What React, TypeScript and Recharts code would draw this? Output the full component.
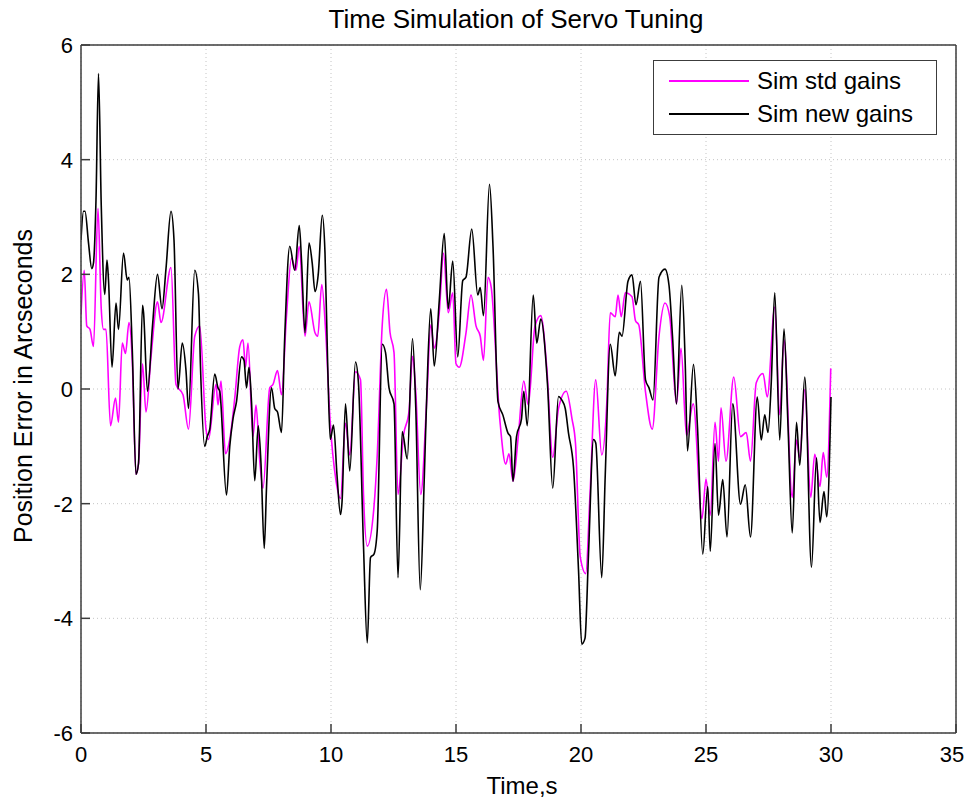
import { LineChart, CartesianGrid, XAxis, YAxis, Legend, Line } from "recharts";

// Sim new gains (black)
const newTime = [
  0, 0.1, 0.16, 0.3, 0.43, 0.5, 0.6, 0.7, 0.81, 0.95,
  1.04, 1.1, 1.24, 1.4, 1.5, 1.7, 1.85, 1.92, 2.05, 2.2,
  2.3, 2.46, 2.5, 2.66, 2.86, 3.06, 3.24, 3.4, 3.6, 3.72,
  3.88, 4.05, 4.2, 4.3, 4.55, 4.7, 4.78, 4.95, 5.05, 5.15,
  5.35, 5.48, 5.55, 5.82, 5.95, 6.08, 6.22, 6.42, 6.52, 6.62,
  6.72, 6.82, 6.95, 7.09, 7.2, 7.33, 7.42, 7.62, 7.75, 7.86,
  8.02, 8.15, 8.35, 8.55, 8.73, 8.82, 8.96, 9.12, 9.25, 9.36,
  9.49, 9.65, 9.76, 9.87, 9.97, 10.1, 10.24, 10.38, 10.44, 10.58,
  10.75, 10.98, 11.1, 11.3, 11.45, 11.58, 11.72, 11.85, 12.05, 12.18,
  12.32, 12.52, 12.68, 12.85, 13.05, 13.26, 13.39, 13.57, 13.73, 13.83,
  13.99, 14.13, 14.33, 14.53, 14.69, 14.87, 15.07, 15.27, 15.4, 15.63,
  15.87, 15.97, 16.1, 16.34, 16.48, 16.68, 16.88, 17.08, 17.18, 17.28,
  17.42, 17.62, 17.71, 17.85, 18.09, 18.23, 18.39, 18.66, 18.87, 19.1,
  19.23, 19.37, 19.5, 19.7, 19.9, 20.03, 20.16, 20.3, 20.5, 20.59,
  20.83, 20.97, 21.17, 21.37, 21.53, 21.64, 21.88, 22.04, 22.2, 22.38,
  22.58, 22.72, 22.88, 23.12, 23.36, 23.52, 23.66, 23.82, 24.03, 24.17,
  24.26, 24.5, 24.66, 24.87, 25.07, 25.17, 25.36, 25.5, 25.67, 25.84,
  26.07, 26.38, 26.57, 26.78, 27.05, 27.21, 27.35, 27.48, 27.61, 27.75,
  27.95, 28.12, 28.28, 28.45, 28.62, 28.75, 28.95, 29.22, 29.42, 29.56,
  29.72, 29.83, 30.0,
];
const newErr = [
  2.6, 3.1, 3.1, 2.55, 2.1, 2.2, 3.3, 5.5, 3.2, 1.65,
  2.25, 1.9, 0.38, 1.5, 1.04, 2.37, 1.9, 1.95, 0.7, -1.49,
  -1.3, 1.46, 1.34, -0.04, 1.1, 2.0, 1.4, 2.1, 3.1, 2.6,
  0.0, 0.8, 0.32, -0.34, 2.07, 1.65, 0.38, -1.0, -0.83, -0.7,
  0.26, 0.02, -0.04, -1.85, -1.0, -0.52, -0.22, 0.56, 0.5, 0.02,
  0.38, -0.22, -1.6, -0.64, -1.3, -2.78, -1.73, 0.02, -0.34, -0.4,
  -0.76, 0.92, 2.49, 2.07, 2.85, 2.25, 0.98, 2.55, 2.19, 1.7,
  2.0, 3.03, 2.37, 0.38, -0.88, -0.63, -1.5, -2.19, -1.98, -0.26,
  -1.43, 0.47, 0.09, -2.74, -4.43, -2.94, -2.88, -2.46, 0.78, 0.64,
  0.02, -0.26, -3.29, -0.74, -1.22, 0.88, -0.32, -3.5, -1.57, -0.12,
  1.4, 0.4, 1.54, 2.71, 1.4, 2.23, 0.56, 1.89, 1.95, 2.79,
  1.64, 1.77, 1.28, 3.57, 2.49, -0.22, -0.46, -0.77, -0.83, -1.61,
  -0.83, -0.52, -0.04, -0.64, 1.64, 0.8, 1.22, 0.08, -1.73, -0.13,
  -0.19, -0.34, -0.77, -1.37, -3.15, -4.45, -4.35, -2.88, -0.88, -0.94,
  -3.29, -1.5, 0.78, 0.23, 0.99, 0.92, 1.88, 1.99, 1.47, 1.88,
  0.16, 0.02, -0.19, 1.95, 2.09, 1.81, 0.92, -0.26, 1.81, 0.43,
  -1.08, 0.43, -0.67, -2.88, -1.7, -2.83, -0.95, -2.2, -1.58, -2.58,
  -0.26, -2.01, -1.67, -2.58, -0.14, -0.89, -0.45, -0.76, 0.11, 1.68,
  -0.89, 1.05, -0.64, -2.51, -0.58, -1.33, 0.21, -3.11, -1.2, -2.33,
  -1.79, -2.23, -0.14,
];

// Sim std gains (magenta)
const stdTime = [
  0, 0.13, 0.23, 0.36, 0.5, 0.68, 0.81, 0.9, 1.0, 1.18,
  1.38, 1.5, 1.65, 1.78, 1.92, 2.05, 2.2, 2.3, 2.46, 2.6,
  2.8, 3.06, 3.2, 3.6, 3.8, 4.08, 4.3, 4.55, 4.75, 5.0,
  5.1, 5.4, 5.48, 5.6, 5.78, 5.95, 6.15, 6.35, 6.48, 6.58,
  6.68, 6.88, 7.0, 7.15, 7.28, 7.55, 7.68, 7.86, 8.02, 8.22,
  8.42, 8.6, 8.73, 8.96, 9.12, 9.36, 9.47, 9.63, 9.79, 9.96,
  10.2, 10.38, 10.58, 10.75, 10.98, 11.18, 11.3, 11.45, 11.72, 11.85,
  12.05, 12.22, 12.36, 12.52, 12.68, 12.9, 13.12, 13.26, 13.39, 13.59,
  13.83, 13.99, 14.13, 14.33, 14.5, 14.69, 14.87, 15.0, 15.13, 15.4,
  15.6, 15.8, 15.97, 16.1, 16.28, 16.41, 16.75, 16.99, 17.12, 17.28,
  17.49, 17.71, 17.89, 18.16, 18.39, 18.63, 18.87, 19.1, 19.41, 19.64,
  19.78, 19.97, 20.19, 20.36, 20.59, 20.83, 21.03, 21.17, 21.37, 21.48,
  21.61, 21.77, 22.04, 22.18, 22.31, 22.58, 22.85, 23.12, 23.36, 23.55,
  23.82, 24.0, 24.22, 24.49, 24.84, 25.0, 25.17, 25.36, 25.5, 25.6,
  25.8, 26.11, 26.38, 26.61, 26.78, 27.01, 27.28, 27.45, 27.75, 27.95,
  28.12, 28.45, 28.62, 28.75, 28.95, 29.19, 29.35, 29.56, 29.69, 29.83,
  29.99,
];
const stdErr = [
  1.3, 2.07, 1.1, 1.04, 0.74, 3.15, 1.4, 1.04, 1.04, -0.64,
  -0.16, -0.58, 0.8, 0.62, 1.16, 0.5, -1.49, -1.3, 0.44, -0.4,
  0.56, 1.52, 1.16, 2.12, 0.08, -0.1, -0.7, 0.92, 1.1, -0.7,
  -0.88, 0.08, -0.28, 0.14, -1.13, -0.88, -0.16, 0.74, 0.86, 0.38,
  0.8, -0.83, -0.28, -1.25, -1.73, 0.02, 0.08, 0.32, -0.1, 1.28,
  2.28, 2.07, 2.49, 0.92, 1.52, 0.98, 0.92, 1.82, 0.98, -0.52,
  -1.6, -1.91, -0.6, -1.15, 0.3, 0.16, -1.84, -2.74, -2.05, -1.15,
  1.12, 1.74, 0.99, 0.64, -1.84, -0.81, -0.39, 0.57, -0.05, -1.84,
  -0.19, 1.12, 0.71, 1.33, 2.37, 1.33, 1.68, 0.44, 0.38, 0.98,
  1.64, 1.1, 0.92, 0.5, 1.95, 1.77, -0.52, -1.31, -1.13, -1.61,
  -0.83, 0.14, -0.28, 1.1, 1.28, 0.38, -1.19, -0.34, -0.04, -0.52,
  -0.95, -2.93, -3.22, -1.84, 0.16, -1.15, -0.26, 1.33, 1.26, 1.64,
  1.26, 1.68, 1.61, 1.19, 1.12, -0.05, -0.7, 0.92, 1.5, 1.26,
  -0.26, 0.71, -0.81, -0.26, -2.26, -1.57, -2.2, -0.58, -1.26, -0.33,
  -1.26, 0.21, -0.83, -0.76, -1.26, 0.11, 0.27, -0.14, 1.43, -0.45,
  0.86, -1.89, -0.89, -1.2, -0.01, -1.89, -1.14, -1.7, -1.11, -1.54,
  0.36,
];

const seriesNames = ["Sim std gains", "Sim new gains"];
const seriesColors = ["#ff00ff", "#000000"];
const xTicks = [0, 5, 10, 15, 20, 25, 30, 35];
const yTicks = [-6, -4, -2, 0, 2, 4, 6];

const AXIS = "#3c3c3c";
const FONT = "'Liberation Sans', Arial, sans-serif";

const stdData = stdTime.map((t, i) => ({ t, v: stdErr[i] }));
const newData = newTime.map((t, i) => ({ t, v: newErr[i] }));

const BottomTick = ({ x, y, payload }: any) => (
  <g transform={`translate(${x},${y})`}>
    <line y1={0} y2={-9} stroke={AXIS} strokeWidth={1.5} />
    <text y={29} dx={payload.value === 35 ? -4 : 0} textAnchor="middle" fontSize={22} fill="#000">{payload.value}</text>
  </g>
);
const TopTick = ({ x, y }: any) => (
  <line x1={x} x2={x} y1={y} y2={y + 9} stroke={AXIS} strokeWidth={1.5} />
);
const LeftTick = ({ x, y, payload }: any) => (
  <g transform={`translate(${x},${y})`}>
    <line x1={0} x2={9} stroke={AXIS} strokeWidth={1.5} />
    <text x={-8} dy="0.36em" textAnchor="end" fontSize={22} fill="#000">{payload.value}</text>
  </g>
);
const RightTick = ({ x, y }: any) => (
  <line x1={x} x2={x - 9} y1={y} y2={y} stroke={AXIS} strokeWidth={1.5} />
);

const renderLegend = (props: any) => {
  const items = [...(props.payload || [])].sort(
    (a: any, b: any) => seriesNames.indexOf(a.value) - seriesNames.indexOf(b.value)
  );
  return (
    <div style={{ width: 284, height: 75, border: `1.5px solid ${AXIS}`, background: "#fff", boxSizing: "border-box", position: "relative" }}>
      {items.map((p: any, i: number) => (
        <div key={p.value} style={{ position: "absolute", left: 0, top: 6 + i * 33, height: 28, display: "flex", alignItems: "center" }}>
          <span style={{ display: "inline-block", width: 80, height: 2, marginLeft: 15, background: seriesColors[seriesNames.indexOf(p.value)] || p.color }} />
          <span style={{ marginLeft: 8, fontSize: 24, color: "#000", whiteSpace: "nowrap" }}>{p.value}</span>
        </div>
      ))}
    </div>
  );
};

export default function App() {
  return (
    <div style={{ position: "absolute", left: 0, top: 0, width: 966, height: 801, background: "#fff", fontFamily: FONT }}>
      <LineChart width={966} height={801} margin={{ top: 44, right: 9, bottom: 28, left: 0 }}>
        <CartesianGrid stroke="#c4c4c4" strokeDasharray="1 3" />
        <XAxis dataKey="t" type="number" domain={[0, 35]} ticks={xTicks} allowDataOverflow
          height={40} tickSize={0} tickMargin={0} tick={<BottomTick />} tickLine={false}
          axisLine={{ stroke: AXIS, strokeWidth: 1.5 }} />
        <XAxis xAxisId="top" orientation="top" type="number" domain={[0, 35]} ticks={xTicks}
          height={1} tickSize={0} tickMargin={0} tick={<TopTick />} tickLine={false}
          axisLine={{ stroke: AXIS, strokeWidth: 1.5 }} />
        <YAxis type="number" domain={[-6, 6]} ticks={yTicks} allowDataOverflow
          width={81} tickSize={0} tickMargin={0} tick={<LeftTick />} tickLine={false}
          axisLine={{ stroke: AXIS, strokeWidth: 1.5 }} />
        <YAxis yAxisId="right" orientation="right" type="number" domain={[-6, 6]} ticks={yTicks}
          width={1} tickSize={0} tickMargin={0} tick={<RightTick />} tickLine={false}
          axisLine={{ stroke: AXIS, strokeWidth: 1.5 }} />
        <Legend content={renderLegend} layout="horizontal" verticalAlign="middle" align="center"
          wrapperStyle={{ left: 653, top: 60, width: 284, height: 75 }} />
        <Line data={stdData} dataKey="v" name={seriesNames[0]} type="monotone" stroke={seriesColors[0]}
          strokeWidth={1.6} dot={false} isAnimationActive={false} />
        <Line data={newData} dataKey="v" name={seriesNames[1]} type="monotone" stroke={seriesColors[1]}
          strokeWidth={1.6} dot={false} isAnimationActive={false} />
      </LineChart>
      <svg width={966} height={801} style={{ position: "absolute", left: 0, top: 0, pointerEvents: "none" }}>
        <text x={516} y={28} fontSize={26} textAnchor="middle" fill="#000">Time Simulation of Servo Tuning</text>
        <text x={522} y={794} fontSize={24} textAnchor="middle" fill="#000">Time,s</text>
        <text transform="translate(32,386) rotate(-90)" fontSize={25} textAnchor="middle" fill="#000">Position Error in Arcseconds</text>
      </svg>
    </div>
  );
}
